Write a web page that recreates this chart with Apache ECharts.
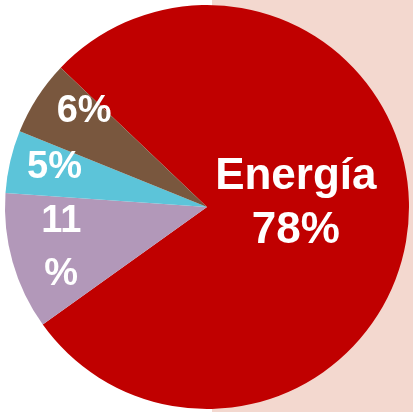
<!DOCTYPE html>
<html>
<head>
<meta charset="utf-8">
<script src="https://cdn.jsdelivr.net/npm/echarts@6/dist/echarts.min.js"></script>
<style>
html,body{margin:0;padding:0;background:#ffffff;}
#chart{width:413px;height:412px;}
</style>
</head>
<body>
<div id="chart"></div>
<script>
// Data
var categories = ['Energía', 'Otros A', 'Otros B', 'Otros C'];
var values = [78, 11, 5, 6];
var labelTexts = ['Energía\n78%', '11\n%', '5%', '6%'];
var colors = ['#c00000', '#b298b9', '#5cc4d9', '#79573e'];

var chart = echarts.init(document.getElementById('chart'), null, {renderer: 'canvas'});

var CX = 207, CY = 207, R = 202, START = 136.4;
// label placement: [radius fraction, angle nudge in degrees] along each slice's mid angle
var labelPolar = [[0.44, 6], [0.75, 0], [0.78, -1.5], [0.77, -5]];

var total = values.reduce(function (a, b) { return a + b; }, 0);
function midAngle(i) {
  var acc = 0;
  for (var k = 0; k < i; k++) acc += values[k];
  return START - (acc + values[i] / 2) / total * 360;
}

var data = values.map(function (v, i) {
  return {
    name: categories[i],
    value: v,
    itemStyle: {color: colors[i]},
    label: {
      formatter: labelTexts[i],
      fontSize: i === 0 ? 44 : 38,
      lineHeight: i === 0 ? 54 : 53
    }
  };
});

chart.setOption({
  animation: false,
  backgroundColor: 'transparent',
  graphic: [{
    type: 'rect',
    z: -10,
    shape: {x: 212, y: 0, width: 201, height: 412},
    style: {fill: '#f3d8cf'}
  }],
  series: [{
    type: 'pie',
    center: [CX, CY],
    radius: [0, R],
    startAngle: START,
    clockwise: true,
    avoidLabelOverlap: false,
    label: {
      show: true,
      position: 'inside',
      color: '#ffffff',
      fontFamily: 'Liberation Sans, Arial, sans-serif',
      fontWeight: 'bold',
      align: 'center',
      verticalAlign: 'middle'
    },
    labelLine: {show: false},
    labelLayout: function (params) {
      var i = params.dataIndex;
      var a = (midAngle(i) + labelPolar[i][1]) * Math.PI / 180;
      var r = labelPolar[i][0] * R;
      return {
        x: CX + r * Math.cos(a),
        y: CY - r * Math.sin(a),
        align: 'center',
        verticalAlign: 'middle'
      };
    },
    itemStyle: {borderWidth: 0},
    emphasis: {disabled: true},
    data: data
  }]
});
</script>
</body>
</html>
